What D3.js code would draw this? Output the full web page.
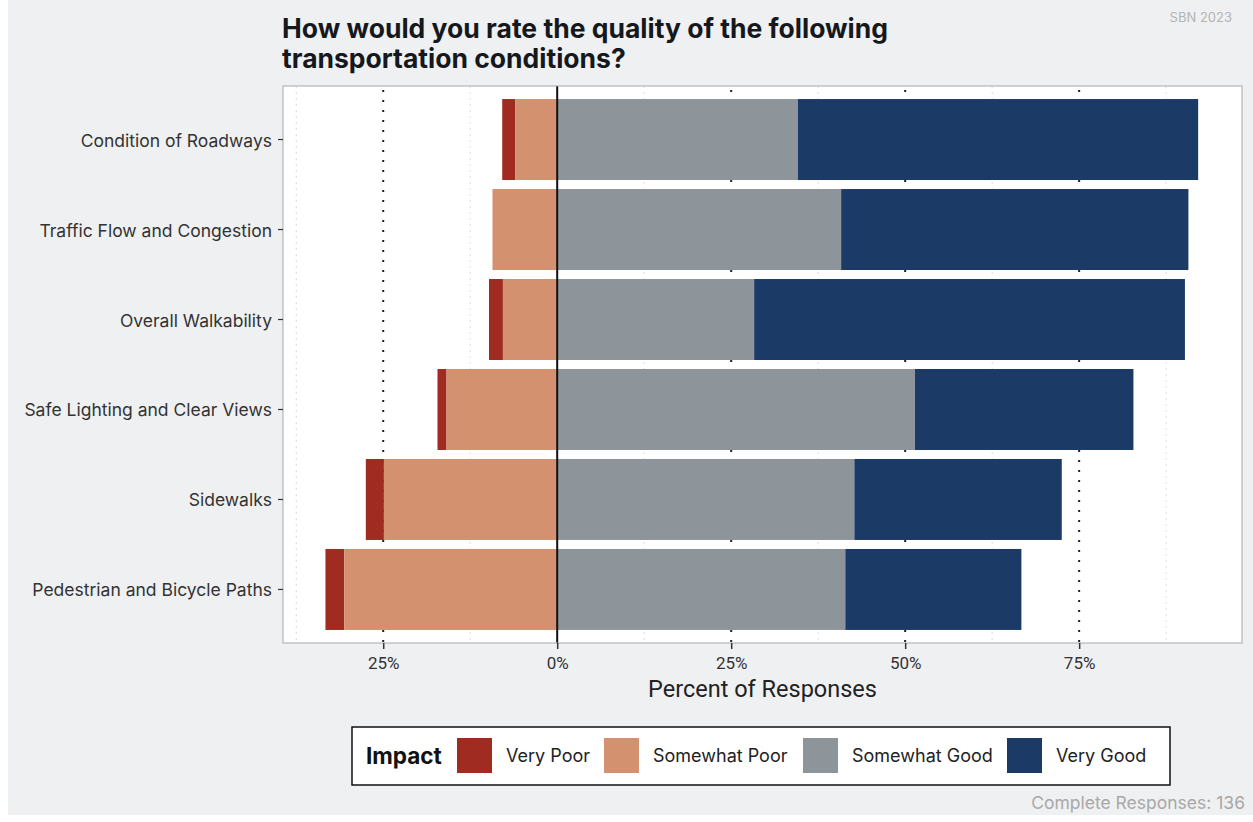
<!DOCTYPE html>
<html>
<head>
<meta charset="utf-8">
<script src="https://cdn.jsdelivr.net/npm/d3@7"></script>
<style>
  html, body { margin: 0; padding: 0; background: #ffffff; }
  svg { display: block; }
  text { font-family: Inter, "Noto Sans", sans-serif; }
</style>
</head>
<body>
<svg id="chart" width="1253" height="822"></svg>
<script>
// Survey items, top to bottom
const categories = [
  "Condition of Roadways",
  "Traffic Flow and Congestion",
  "Overall Walkability",
  "Safe Lighting and Clear Views",
  "Sidewalks",
  "Pedestrian and Bicycle Paths"
];
// Percent of responses per rating level
const veryPoor     = [1.9, 0.0, 2.0, 1.3, 2.6, 2.7];
const somewhatPoor = [6.0, 9.3, 7.8, 15.9, 24.9, 30.6];
const somewhatGood = [34.6, 40.8, 28.3, 51.4, 42.7, 41.4];
const veryGood     = [57.5, 49.9, 61.9, 31.4, 29.8, 25.3];

const levels = ["Very Poor", "Somewhat Poor", "Somewhat Good", "Very Good"];
const levelColors = ["#a02b20", "#d4916f", "#8e959a", "#1b3a66"];

const tickValues = [-25, 0, 25, 50, 75];
const tickLabels = ["25%", "0%", "25%", "50%", "75%"];
const minorTicks = [-37.5, -12.5, 12.5, 37.5, 62.5, 87.5];

const svg = d3.select("#chart");
const W = 1253, H = 822;

// Page background
svg.append("rect").attr("x", 0).attr("y", 0).attr("width", W).attr("height", H).attr("fill", "#ffffff");
svg.append("rect").attr("x", 8).attr("y", 0).attr("width", W - 8).attr("height", 815).attr("fill", "#eff0f2");

const panel = { left: 283, right: 1242, top: 86, bottom: 643 };

const x = d3.scaleLinear()
  .domain([-39.4, 98.4])
  .range([panel.left, panel.right]);

const y = d3.scaleBand()
  .domain(categories)
  .range([panel.top, panel.bottom])
  .paddingInner(0.1)
  .paddingOuter(0.145);

// Panel
svg.append("rect")
  .attr("x", panel.left).attr("y", panel.top)
  .attr("width", panel.right - panel.left).attr("height", panel.bottom - panel.top)
  .attr("fill", "#ffffff");

// Minor gridlines (faint)
svg.append("g").selectAll("line").data(minorTicks).join("line")
  .attr("x1", d => x(d)).attr("x2", d => x(d))
  .attr("y1", panel.top).attr("y2", panel.bottom)
  .attr("stroke", "#dcdcdc").attr("stroke-width", 1)
  .attr("stroke-dasharray", "2,4");

// Major gridlines (dotted)
svg.append("g").selectAll("line").data(tickValues.filter(d => d !== 0)).join("line")
  .attr("x1", d => x(d)).attr("x2", d => x(d))
  .attr("y1", panel.top + 4).attr("y2", panel.bottom)
  .attr("stroke", "#222").attr("stroke-width", 2)
  .attr("stroke-dasharray", "2,8");

// Stacked diverging segments
const rows = categories.map((c, i) => {
  const vp = veryPoor[i], sp = somewhatPoor[i], sg = somewhatGood[i], vg = veryGood[i];
  return [
    { cat: c, level: 0, x0: -(sp + vp), x1: -sp },
    { cat: c, level: 1, x0: -sp, x1: 0 },
    { cat: c, level: 2, x0: 0, x1: sg },
    { cat: c, level: 3, x0: sg, x1: sg + vg }
  ];
}).flat().filter(d => d.x1 - d.x0 > 0);

svg.append("g").selectAll("rect").data(rows).join("rect")
  .attr("x", d => x(d.x0))
  .attr("width", d => x(d.x1) - x(d.x0))
  .attr("y", d => y(d.cat))
  .attr("height", y.bandwidth())
  .attr("fill", d => levelColors[d.level]);

// Zero line
svg.append("line")
  .attr("x1", x(0)).attr("x2", x(0))
  .attr("y1", panel.top).attr("y2", panel.bottom)
  .attr("stroke", "#111").attr("stroke-width", 2);

// Panel border
svg.append("rect")
  .attr("x", panel.left).attr("y", panel.top)
  .attr("width", panel.right - panel.left).attr("height", panel.bottom - panel.top)
  .attr("fill", "none").attr("stroke", "#a8a8a8").attr("stroke-width", 1);

// X axis
const xAxis = d3.axisBottom(x)
  .tickValues(tickValues)
  .tickFormat((d, i) => tickLabels[i])
  .tickSize(6).tickPadding(8);
const gx = svg.append("g").attr("transform", `translate(0,${panel.bottom})`).call(xAxis);
gx.select(".domain").remove();
gx.selectAll(".tick line").attr("stroke", "#333").attr("stroke-width", 1.5);
gx.selectAll(".tick text").attr("fill", "#333").style("font-size", "17px").style("font-family", "Roboto, sans-serif");

// Y axis
const yAxis = d3.axisLeft(y).tickSize(5).tickPadding(6);
const gy = svg.append("g").attr("transform", `translate(${panel.left},0)`).call(yAxis);
gy.select(".domain").remove();
gy.selectAll(".tick line").attr("stroke", "#333").attr("stroke-width", 1.2);
gy.selectAll(".tick text").attr("fill", "#333").attr("dy", "0.4em").style("font-size", "17.5px");

// X axis title
svg.append("text")
  .attr("x", (x(-39.4) + x(98.4)) / 2).attr("y", 697)
  .attr("text-anchor", "middle")
  .attr("fill", "#222")
  .style("font-family", "Roboto, sans-serif")
  .style("font-size", "23.5px")
  .text("Percent of Responses");

// Title
const title = svg.append("text").attr("x", 282).attr("fill", "#15181c")
  .style("font-size", "26.5px").style("font-weight", "700");
title.append("tspan").attr("x", 282).attr("y", 38).text("How would you rate the quality of the following");
title.append("tspan").attr("x", 282).attr("y", 68).text("transportation conditions?");

// Top-right tag
svg.append("text")
  .attr("x", 1232).attr("y", 22).attr("text-anchor", "end")
  .attr("fill", "#b4b4b4").style("font-size", "13px")
  .text("SBN 2023");

// Legend
const legend = svg.append("g");
legend.append("rect")
  .attr("x", 352).attr("y", 727).attr("width", 818).attr("height", 58)
  .attr("fill", "#ffffff").attr("stroke", "#111").attr("stroke-width", 1.5);
legend.append("text")
  .attr("x", 366).attr("y", 764)
  .attr("fill", "#111").style("font-size", "22.5px").style("font-weight", "700")
  .text("Impact");
const keyX = [457, 604, 803, 1007];
levels.forEach((lv, i) => {
  legend.append("rect")
    .attr("x", keyX[i]).attr("y", 738).attr("width", 35).attr("height", 35)
    .attr("fill", levelColors[i]);
  legend.append("text")
    .attr("x", keyX[i] + 49).attr("y", 762)
    .attr("fill", "#222").style("font-size", "18px")
    .text(lv);
});

// Caption
svg.append("text")
  .attr("x", 1245).attr("y", 809).attr("text-anchor", "end")
  .attr("fill", "#a8a8a8").style("font-size", "17.5px")
  .text("Complete Responses: 136");
</script>
</body>
</html>
